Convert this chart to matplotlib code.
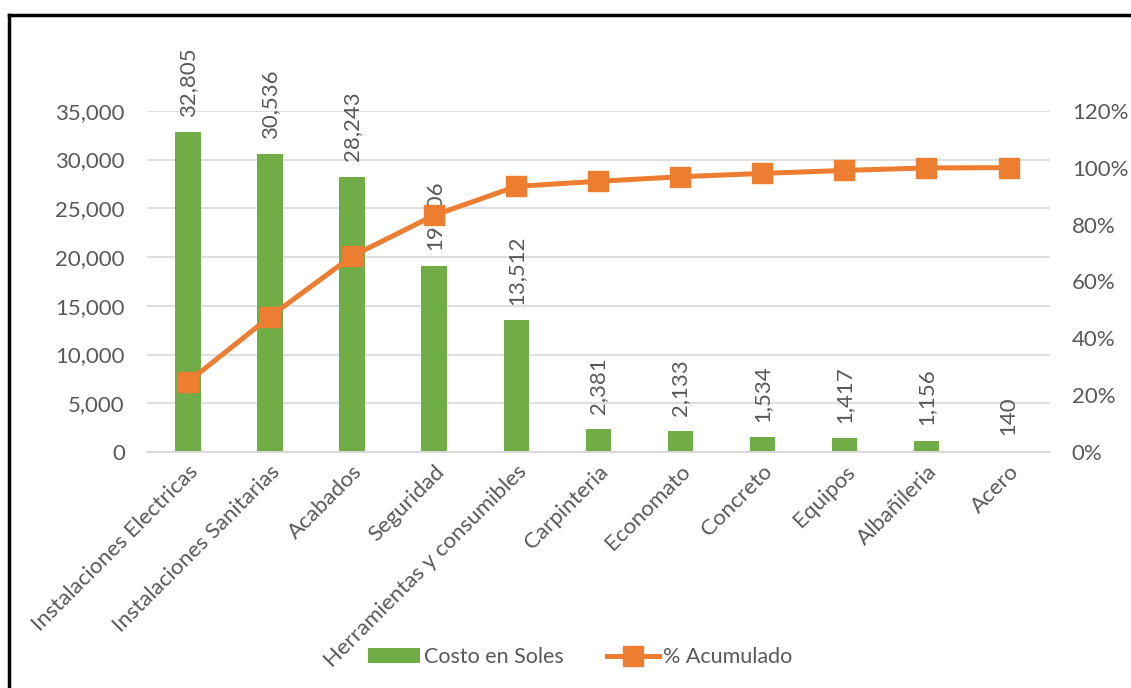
import matplotlib.pyplot as plt
from matplotlib.lines import Line2D

plt.rcParams['font.family'] = ['Lato', 'DejaVu Sans']

categorias = ["Instalaciones Electricas", "Instalaciones Sanitarias", "Acabados",
              "Seguridad", "Herramientas y consumibles", "Carpinteria", "Economato",
              "Concreto", "Equipos", "Albañileria", "Acero"]
costo = [32805, 30536, 28243, 19106, 13512, 2381, 2133, 1534, 1417, 1156, 140]
acumulado = [0.2467, 0.4764, 0.6888, 0.8325, 0.9341, 0.9520, 0.9680, 0.9796, 0.9903, 0.9989, 1.0]

verde = "#70AD47"
naranja = "#ED7D31"
gris = "#595959"
fs = 16

fig = plt.figure(figsize=(11.31, 6.88), dpi=100)
ax = fig.add_axes([0.130, 0.343, 0.798, 0.496])
ax2 = ax.twinx()

x = list(range(len(categorias)))
barras = ax.bar(x, costo, width=0.31, color=verde, label="Costo en Soles", zorder=2)
for xi, v in zip(x, costo):
    ax.annotate(f"{v:,}", (xi, v), xytext=(0, 11), textcoords="offset points",
                rotation=90, ha="center", va="bottom", fontsize=fs, color=gris)

linea, = ax2.plot(x, acumulado, color=naranja, lw=3.6, marker="s", ms=14,
                  label="% Acumulado", zorder=3)

ax.set_xlim(-0.5, len(categorias) - 0.5)
ax.set_ylim(0, 35000)
ax.set_yticks(range(0, 35001, 5000))
ax.set_yticklabels([f"{t:,}" for t in range(0, 35001, 5000)])
ax2.set_ylim(0, 1.2)
ax2.set_yticks([0, 0.2, 0.4, 0.6, 0.8, 1.0, 1.2])
ax2.set_yticklabels(["0%", "20%", "40%", "60%", "80%", "100%", "120%"])

ax.grid(axis="y", color="#D9D9D9", lw=1.2, zorder=0)
ax.set_axisbelow(True)
for a in (ax, ax2):
    for s in ("top", "left", "right"):
        a.spines[s].set_visible(False)
    a.spines["bottom"].set_color("#D9D9D9")
    a.spines["bottom"].set_linewidth(1.2)
    a.tick_params(axis="y", length=0, labelsize=fs, labelcolor=gris, pad=16)
ax.tick_params(axis="x", length=0, pad=7)
ax.set_xticks(x)
ax.set_xticklabels(categorias, rotation=45, ha="right", rotation_mode="anchor",
                   fontsize=fs, color=gris)

fig.legend([barras, linea], ["Costo en Soles", "% Acumulado"], loc="center",
           bbox_to_anchor=(0.513, 0.045), ncol=2, frameon=False, fontsize=15.5,
           labelcolor=gris, handlelength=2.4, handletextpad=0.2, columnspacing=2.0)

# marco superior e izquierdo
fig.add_artist(Line2D([0.008, 1.0], [0.978, 0.978], color="black", lw=2.5,
                      transform=fig.transFigure))
fig.add_artist(Line2D([0.008, 0.008], [0.0, 0.978], color="black", lw=2.5,
                      transform=fig.transFigure))

fig.savefig("out.png", dpi=100)
